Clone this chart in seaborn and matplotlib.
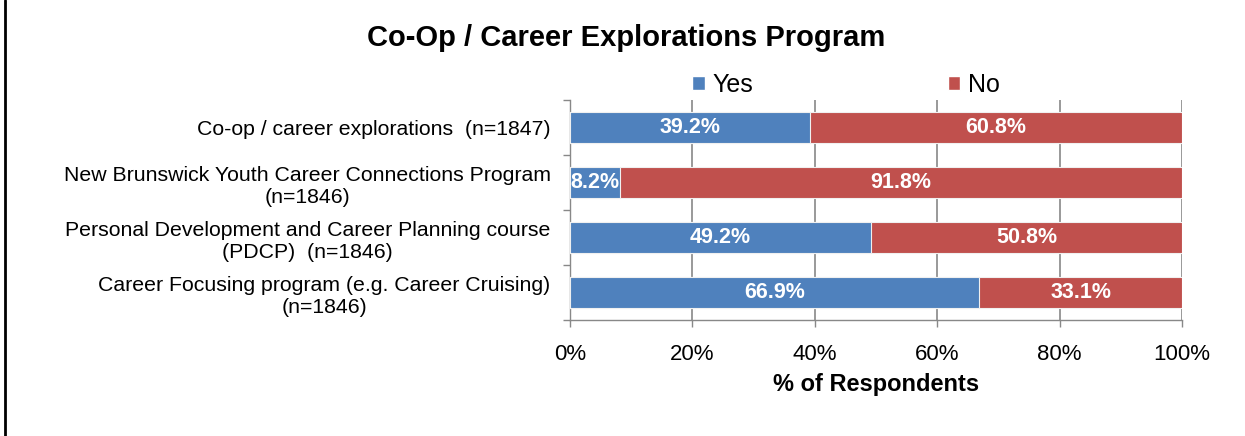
import numpy as np
import pandas as pd
import matplotlib
matplotlib.use("Agg")
import matplotlib.pyplot as plt
import seaborn as sns
from matplotlib.lines import Line2D
from matplotlib.patches import Patch

programs = [
    "Co-op / career explorations  (n=1847)",
    "New Brunswick Youth Career Connections Program\n(n=1846)",
    "Personal Development and Career Planning course\n(PDCP)  (n=1846)",
    "Career Focusing program (e.g. Career Cruising)\n(n=1846)",
]
yes_pct = [39.2, 8.2, 49.2, 66.9]
no_pct = [60.8, 91.8, 50.8, 33.1]

df = pd.DataFrame({"Program": programs, "Yes": yes_pct, "No": no_pct})
df["Total"] = df["Yes"] + df["No"]

blue = "#4F81BD"
red = "#C0504D"

sns.set_theme(style="white")
plt.rcParams["font.family"] = ["Liberation Sans", "DejaVu Sans"]
plt.rcParams["text.color"] = "black"
plt.rcParams["axes.labelcolor"] = "black"

fig = plt.figure(figsize=(12.45, 4.36), dpi=100)
ax = fig.add_axes([570 / 1245, 1 - 320 / 436, 612 / 1245, 220 / 436])

# stacked: draw total (No) first, then Yes on top
sns.barplot(data=df, y="Program", x="Total", color=red, saturation=1,
            width=0.56, edgecolor="#f0f0f0", linewidth=0.8, ax=ax, zorder=3)
sns.barplot(data=df, y="Program", x="Yes", color=blue, saturation=1,
            width=0.56, edgecolor="#f0f0f0", linewidth=0.8, ax=ax, zorder=4)

for i, (y, n) in enumerate(zip(yes_pct, no_pct)):
    ax.text(y / 2, i, f"{y}%", ha="center", va="center", color="white",
            fontsize=15.5, fontweight="bold", zorder=5)
    ax.text(y + n / 2, i, f"{n}%", ha="center", va="center", color="white",
            fontsize=15.5, fontweight="bold", zorder=5)

ax.set_xlim(0, 100)
ax.set_ylim(3.5, -0.5)
ax.set_xticks(np.arange(0, 101, 20))
ax.set_xticklabels([f"{v}%" for v in range(0, 101, 20)], fontsize=16)
ax.set_yticks(range(len(programs)))
ax.set_yticklabels(programs, fontsize=15.3, multialignment="center", linespacing=1.2)
ax.set_yticks(np.arange(-0.5, 4, 1), minor=True)
ax.tick_params(axis="y", which="major", length=0, pad=14, labelcolor="black")
ax.tick_params(axis="y", which="minor", left=True, length=5, color="#888888", width=1)
ax.tick_params(axis="x", bottom=True, length=5, color="#888888", width=1, pad=12,
               labelcolor="black")

ax.xaxis.grid(True, color="#888888", linewidth=1.2, zorder=0)
ax.set_axisbelow(True)
for s in ["top", "right"]:
    ax.spines[s].set_visible(False)
for s in ["left", "bottom"]:
    ax.spines[s].set_color("#888888")
    ax.spines[s].set_linewidth(1)

ax.set_xlabel("% of Respondents", fontsize=17, fontweight="bold", labelpad=6)
ax.set_ylabel("")

fig.text(626 / 1245, 1 - 38 / 436, "Co-Op / Career Explorations Program",
         ha="center", va="center", fontsize=21, fontweight="bold")

handles = [Patch(facecolor=blue), Patch(facecolor=red)]
fig.legend(handles, ["Yes", "No"], loc="center", ncol=2,
           bbox_to_anchor=(846 / 1245, 1 - 85 / 436), frameon=False,
           fontsize=18, handlelength=0.5, handleheight=0.5,
           handletextpad=0.3, columnspacing=7.8)

fig.add_artist(Line2D([5.5 / 1245, 5.5 / 1245], [0, 1], color="black", linewidth=2))

fig.savefig("out.png", dpi=100)
